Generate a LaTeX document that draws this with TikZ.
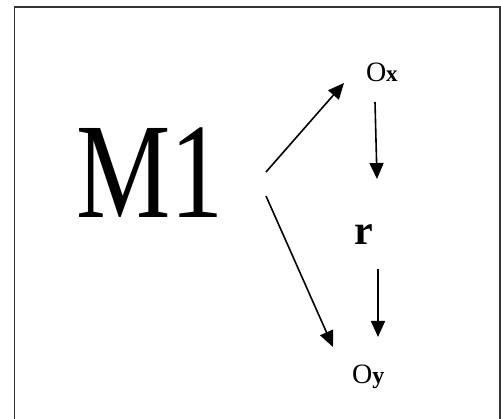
\documentclass[tikz,border=0pt]{standalone}
\usepackage{fontspec}
\setmainfont{Liberation Serif}
\usetikzlibrary{arrows.meta,calc}
\definecolor{mframe}{HTML}{333333}

\begin{document}
\begin{tikzpicture}[x=1pt, y=-1pt,
    term/.style={inner sep=0pt, anchor=base west},
    link/.style={line width=1.6pt, -{Triangle[length=16pt, width=14pt]}},
    frame/.style={draw=mframe, line width=1.5pt}
]
    \useasboundingbox (0,0) rectangle (501,419);
    \draw[frame] (14.7,7) rectangle (500,440);

    % Terms
    \node[term, xscale=0.78] (model) at (76,218) {\fontsize{136}{136}\selectfont M1};
    \node[term] (ox) at (365.8,81.5) {\fontsize{28}{28}\selectfont O\fontsize{23}{23}\selectfont\textbf{x}};
    \node[term] (rel) at (354,245) {\fontsize{42}{42}\selectfont\textbf{r}};
    \node[term] (oy) at (352,384) {\fontsize{28}{28}\selectfont O\fontsize{24}{24}\selectfont\textbf{y}};

    % Links
    \draw[link] ($(model.base west)+(190,-46)$) -- ($(ox.base west)+(-21.8,1.5)$);
    \draw[link] ($(model.base west)+(190,-22)$) -- ($(oy.base west)+(-19,-37)$);
    \draw[link] ($(ox.base west)+(9.2,20.5)$) -- ($(rel.base west)+(23,-66)$);
    \draw[link] ($(rel.base west)+(24,24)$) -- ($(oy.base west)+(26,-47)$);
\end{tikzpicture}
\end{document}
